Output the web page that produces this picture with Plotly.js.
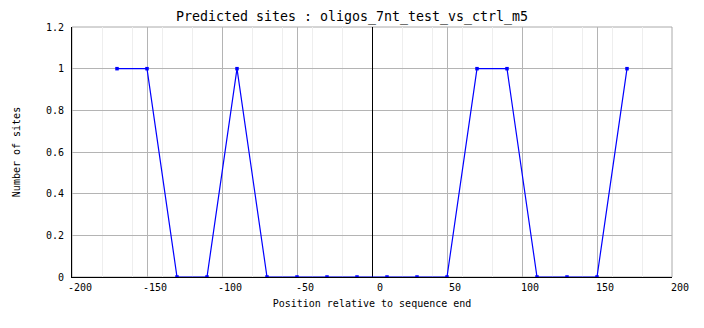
<!DOCTYPE html>
<html>
<head>
<meta charset="utf-8">
<script src="https://cdn.plot.ly/plotly-3.0.1.min.js"></script>
<style>html,body{margin:0;padding:0;background:#fff;}#chart{width:704px;height:328px;}</style>
</head>
<body>
<div id="chart"></div>
<script>
const positions = [-170, -150, -130, -110, -90, -70, -50, -30, -10, 10, 30, 50, 70, 90, 110, 130, 150, 170];
const siteCounts = [1, 1, 0, 0, 1, 0, 0, 0, 0, 0, 0, 0, 1, 1, 0, 0, 0, 1];
const xTickVals = [-200, -150, -100, -50, 0, 50, 100, 150, 200];
const xTickText = ['-200', '-150', '-100', '-50', '0', '50', '100', '150', '200'];
const yTickVals = [0, 0.2, 0.4, 0.6, 0.8, 1, 1.2];
const yTickText = ['0', '0.2', '0.4', '0.6', '0.8', '1', '1.2'];

const mono = '"DejaVu Sans Mono", "Liberation Mono", monospace';

const trace = {
  x: positions,
  y: siteCounts,
  type: 'scatter',
  mode: 'lines+markers',
  line: {color: '#0000ff', width: 1.2},
  marker: {color: '#0000ff', size: 3.5, symbol: 'square'},
  hoverinfo: 'x+y'
};

const layout = {
  width: 704,
  height: 328,
  margin: {l: 72, r: 32, t: 27, b: 51, pad: 0},
  paper_bgcolor: '#ffffff',
  plot_bgcolor: '#ffffff',
  showlegend: false,
  title: {
    text: 'Predicted sites : oligos_7nt_test_vs_ctrl_m5',
    font: {family: mono, size: 13.3, color: '#000000'},
    x: 0.5, xref: 'container', xanchor: 'center',
    y: 1, yref: 'container', yanchor: 'top', pad: {t: 12}
  },
  xaxis: {
    range: [-200, 200],
    tickmode: 'array',
    tickvals: xTickVals,
    ticktext: xTickText,
    ticks: '',
    ticklabelshift: 8,
    ticklabelstandoff: 1,
    tickfont: {family: mono, size: 10, color: '#000000'},
    showgrid: true,
    gridcolor: '#b4b4b4',
    gridwidth: 1,
    minor: {dtick: 20, tick0: 0, showgrid: true, gridcolor: '#eeeeee', gridwidth: 1, ticks: ''},
    zeroline: true,
    zerolinecolor: '#000000',
    zerolinewidth: 1,
    showline: true,
    linecolor: '#000000',
    linewidth: 1,
    mirror: false,
    title: {text: 'Position relative to sequence end', font: {family: mono, size: 10, color: '#000000'}, standoff: 7}
  },
  yaxis: {
    range: [0, 1.2],
    tickmode: 'array',
    tickvals: yTickVals,
    ticktext: yTickText,
    ticks: '',
    ticklabelstandoff: 5,
    tickfont: {family: mono, size: 10, color: '#000000'},
    showgrid: true,
    gridcolor: '#b4b4b4',
    gridwidth: 1,
    zeroline: false,
    showline: true,
    linecolor: '#000000',
    linewidth: 1,
    mirror: false,
    title: {text: 'Number of sites', font: {family: mono, size: 10, color: '#000000'}, standoff: 23}
  },
  shapes: [{
    type: 'rect', xref: 'paper', yref: 'paper', x0: 0, x1: 1, y0: 0, y1: 1,
    line: {color: '#aaaaaa', width: 1}, layer: 'below'
  }]
};

Plotly.newPlot('chart', [trace], layout, {displayModeBar: false, staticPlot: true});
</script>
</body>
</html>
